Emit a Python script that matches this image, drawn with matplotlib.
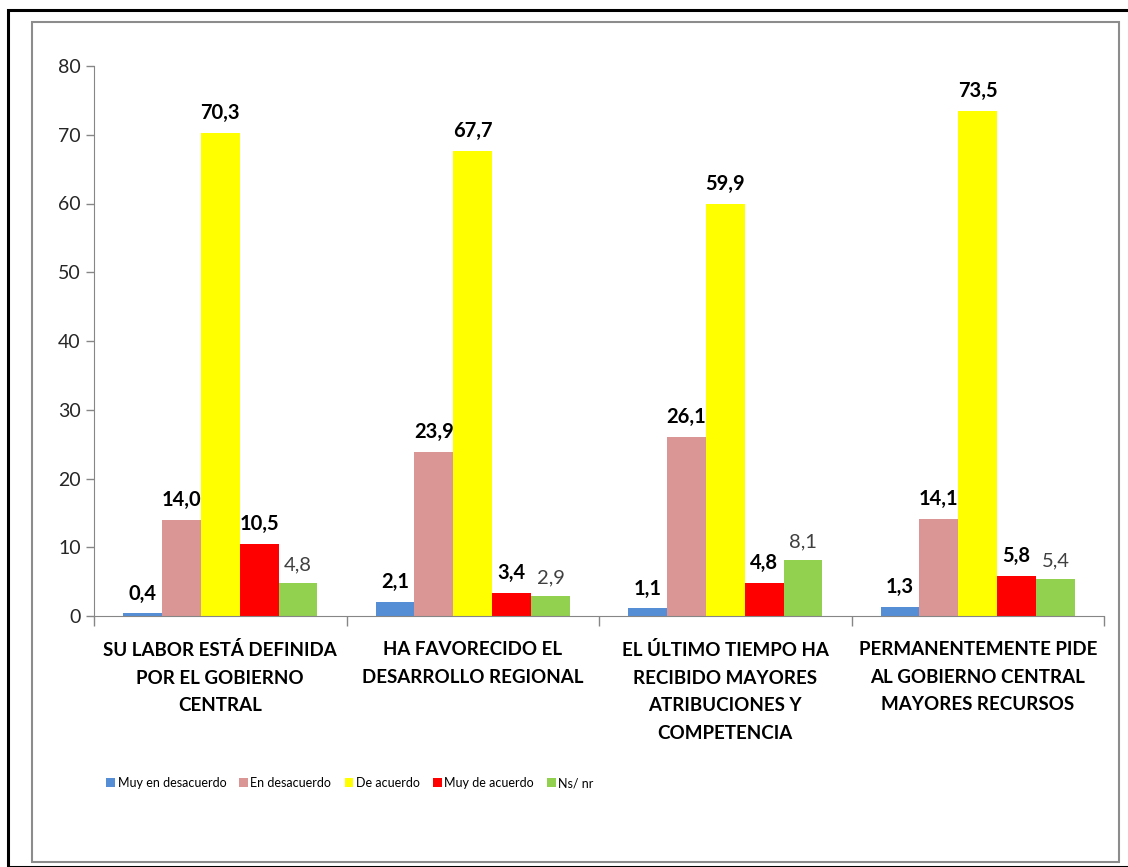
import numpy as np
import matplotlib.pyplot as plt
from matplotlib.patches import Rectangle

plt.rcParams['font.family'] = ['Lato', 'DejaVu Sans']

categories = ['SU LABOR ESTÁ DEFINIDA\nPOR EL GOBIERNO\nCENTRAL',
              'HA FAVORECIDO EL\nDESARROLLO REGIONAL',
              'EL ÚLTIMO TIEMPO HA\nRECIBIDO MAYORES\nATRIBUCIONES Y\nCOMPETENCIA',
              'PERMANENTEMENTE PIDE\nAL GOBIERNO CENTRAL\nMAYORES RECURSOS']
series_names = ['Muy en desacuerdo', 'En desacuerdo', 'De acuerdo',
                'Muy de acuerdo', 'Ns/ nr']
muy_desacuerdo = [0.4, 2.1, 1.1, 1.3]
desacuerdo = [14.0, 23.9, 26.1, 14.1]
de_acuerdo = [70.3, 67.7, 59.9, 73.5]
muy_acuerdo = [10.5, 3.4, 4.8, 5.8]
ns_nr = [4.8, 2.9, 8.1, 5.4]
series = [muy_desacuerdo, desacuerdo, de_acuerdo, muy_acuerdo, ns_nr]
colors = ['#558ED5', '#D99694', '#FFFF00', '#FF0000', '#92D050']

fig = plt.figure(figsize=(11.28, 8.67), dpi=100)

# outer frames
fig.patches.append(Rectangle((8 / 1128, 0), 1.2, 1 - 10 / 867,
                             transform=fig.transFigure, fill=False,
                             edgecolor='black', lw=2.2))
fig.patches.append(Rectangle((32 / 1128, 1 - 862 / 867),
                             (1119 - 32) / 1128, (862 - 22) / 867,
                             transform=fig.transFigure, fill=False,
                             edgecolor='#8c8c8c', lw=1.5))

ax = fig.add_axes([94 / 1128, 1 - 616 / 867, (1104 - 94) / 1128,
                   (616 - 66) / 867])

x = np.arange(len(categories))
w = 0.154
for i, (vals, col, name) in enumerate(zip(series, colors, series_names)):
    pos = x + (i - 2) * w
    ax.bar(pos, vals, w, color=col, label=name)
    for p, v in zip(pos, vals):
        txt = f'{v:.1f}'.replace('.', ',')
        if i == 4:
            ax.annotate(txt, (p, v), xytext=(0, 7), textcoords='offset points',
                        ha='center', va='bottom', fontsize=14.5,
                        color='#404040')
        else:
            ax.annotate(txt, (p, v), xytext=(0, 7), textcoords='offset points',
                        ha='center', va='bottom', fontsize=14.5,
                        fontweight='bold', color='black')

ax.set_xlim(-0.5, len(categories) - 0.5)
ax.set_ylim(0, 80)
ax.set_yticks(range(0, 81, 10))
ax.tick_params(axis='y', labelsize=14, colors='#868686', labelcolor='#262626',
               length=6, width=1)
ax.set_xticks(np.arange(len(categories) + 1) - 0.5)
ax.set_xticklabels([])
ax.tick_params(axis='x', length=7, colors='#868686', width=1)
for c, lbl in zip(x, categories):
    ax.text(c, -3.7, lbl, ha='center', va='top', fontsize=13.5,
            fontweight='bold', color='black', linespacing=1.75)

for s in ['top', 'right']:
    ax.spines[s].set_visible(False)
for s in ['left', 'bottom']:
    ax.spines[s].set_color('#868686')

fig.legend(loc='center left', bbox_to_anchor=(95 / 1128, 1 - 783 / 867),
           ncol=5, frameon=False, fontsize=9, handlelength=0.7,
           handleheight=0.7, handletextpad=0.2, columnspacing=1.05)

fig.savefig('out.png', dpi=100)
